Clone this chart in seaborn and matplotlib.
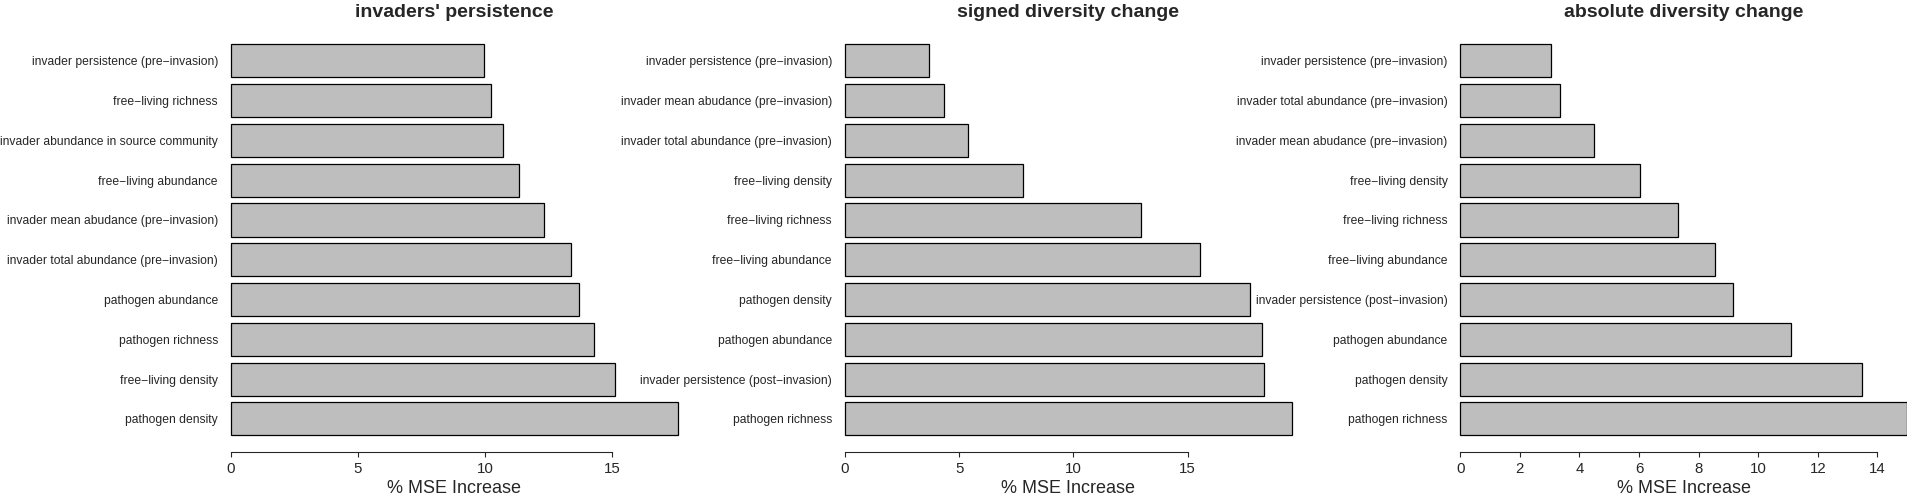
import matplotlib
matplotlib.use("Agg")
import matplotlib.pyplot as plt
import seaborn as sns
import pandas as pd

# --- data (top bar first) ---
persist_labels = [
    "invader persistence (pre\u2212invasion)",
    "free\u2212living richness",
    "invader abundance in source community",
    "free\u2212living abundance",
    "invader mean abudance (pre\u2212invasion)",
    "invader total abundance (pre\u2212invasion)",
    "pathogen abundance",
    "pathogen richness",
    "free\u2212living density",
    "pathogen density",
]
persist_values = [9.96, 10.24, 10.73, 11.35, 12.33, 13.40, 13.70, 14.30, 15.12, 17.58]

signed_labels = [
    "invader persistence (pre\u2212invasion)",
    "invader mean abudance (pre\u2212invasion)",
    "invader total abundance (pre\u2212invasion)",
    "free\u2212living density",
    "free\u2212living richness",
    "free\u2212living abundance",
    "pathogen density",
    "pathogen abundance",
    "invader persistence (post\u2212invasion)",
    "pathogen richness",
]
signed_values = [3.67, 4.34, 5.37, 7.81, 12.95, 15.53, 17.74, 18.25, 18.34, 19.56]

absolute_labels = [
    "invader persistence (pre\u2212invasion)",
    "invader total abundance (pre\u2212invasion)",
    "invader mean abudance (pre\u2212invasion)",
    "free\u2212living density",
    "free\u2212living richness",
    "free\u2212living abundance",
    "invader persistence (post\u2212invasion)",
    "pathogen abundance",
    "pathogen density",
    "pathogen richness",
]
absolute_values = [3.06, 3.35, 4.48, 6.04, 7.30, 8.55, 9.16, 11.11, 13.48, 14.99]

titles = ["invaders' persistence", "signed diversity change", "absolute diversity change"]
tick_sets = [[0, 5, 10, 15], [0, 5, 10, 15], [0, 2, 4, 6, 8, 10, 12, 14]]

sns.set_style("white")
plt.rcParams["font.family"] = ["Liberation Sans", "DejaVu Sans"]

W, H = 1908, 495
fig = plt.figure(figsize=(W / 100, H / 100), dpi=100)

# panel geometry in pixels: left edge of x=0, pixels per unit
panels = [
    (persist_labels, persist_values, 230.7, 25.42),
    (signed_labels, signed_values, 844.7, 22.87),
    (absolute_labels, absolute_values, 1460.3, 29.79),
]
top_px, bottom_px = 28.6, 451.7
pitch = 39.78

for (labels, values, x0, ppu), title, ticks in zip(panels, titles, tick_sets):
    xmax = max(values)
    width_px = xmax * ppu
    ax = fig.add_axes([x0 / W, 1 - bottom_px / H, width_px / W, (bottom_px - top_px) / H])
    df = pd.DataFrame({"var": labels, "imp": values})
    sns.barplot(data=df, x="imp", y="var", order=labels, orient="h",
                color="#BEBEBE", saturation=1, edgecolor="black",
                linewidth=0.9, width=0.833, ax=ax)
    for bar in ax.patches:
        bar.set_clip_on(False)
    ax.set_xlim(0, xmax)
    ytop = -0.4167 - 15.7 / pitch
    ax.set_ylim(ytop + (bottom_px - top_px) / pitch, ytop)
    for side in ["top", "right", "left"]:
        ax.spines[side].set_visible(False)
    ax.spines["bottom"].set_bounds(ticks[0], ticks[-1])
    ax.spines["bottom"].set_linewidth(0.8)
    ax.set_xticks(ticks)
    ax.tick_params(axis="x", direction="out", length=3.6, width=0.8,
                   pad=3.6, labelsize=10.8, bottom=True)
    ax.tick_params(axis="y", length=0, pad=9.2, labelsize=8.7)
    ax.set_xlabel("")
    ax.set_ylabel("")
    cx = (x0 + width_px / 2) / W
    fig.text(cx, 1 - 16.7 / H, title, ha="center", va="baseline",
             fontsize=14, fontweight="bold")
    fig.text(cx, 1 - 492.7 / H, "% MSE Increase", ha="center", va="baseline",
             fontsize=13)

fig.savefig("out.png", dpi=100)
